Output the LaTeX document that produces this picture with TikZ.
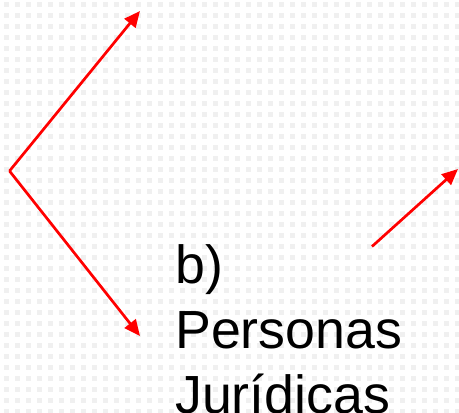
\documentclass[tikz,border=0pt]{standalone}
\usepackage{fontspec}
\setmainfont{Liberation Sans}
\usetikzlibrary{arrows.meta}
\begin{document}
\begin{tikzpicture}[x=1pt,y=-1pt,
  redarrow/.style={draw=red, line width=2.7pt, -{Triangle[length=16pt,width=14pt]}},
  dotsq/.style={fill=black!6, draw=none},
  bigtext/.style={font=\fontsize{53.7}{65}\selectfont, align=left, inner sep=0pt, anchor=base west}]
\useasboundingbox (0,0) rectangle (459,413);
\fill[white] (0,0) rectangle (459,413);
\foreach \i in {0,...,41}{
  \foreach \j in {0,...,37}{
    \fill[dotsq] ({4+11*\i},{2+11*\j}) rectangle ++(5,4.5);
  }
}
\coordinate (v) at (9.5,171);
\coordinate (t1) at (140,11);
\coordinate (t2) at (140,336);
\coordinate (s3) at (372,246.5);
\coordinate (t3) at (458,169);
\draw[redarrow] (v) -- (t1);
\draw[redarrow] (v) -- (t2);
\draw[redarrow] (s3) -- (t3);
\node[bigtext] (txt) at (175,413) {b)\\Personas\\Jurídicas};
\end{tikzpicture}
\end{document}
